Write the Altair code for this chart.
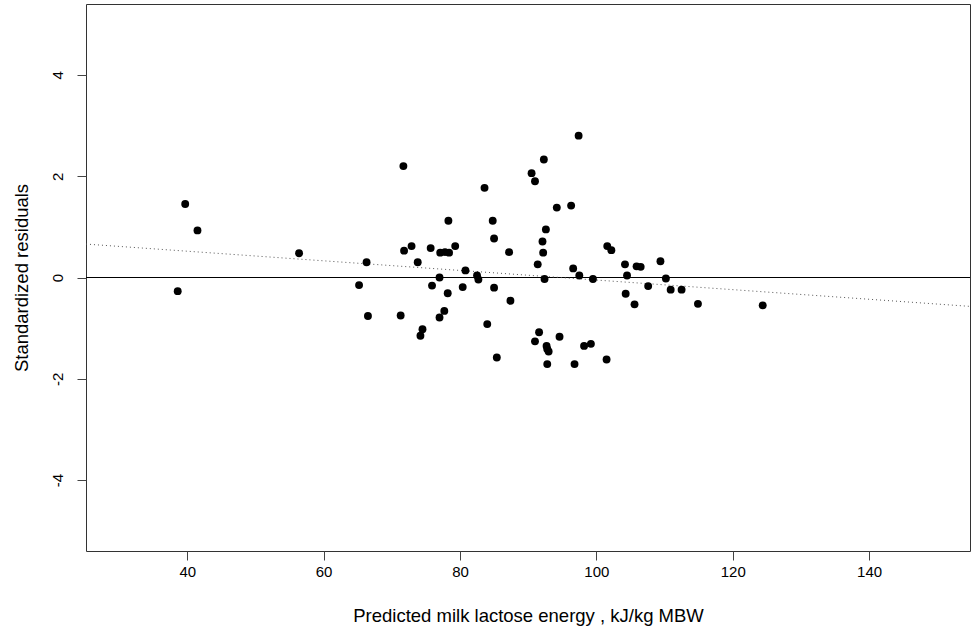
import altair as alt
import pandas as pd

# Predicted milk lactose energy (kJ/kg MBW) and standardized residuals
pred = [39.7, 41.5, 38.6, 56.4, 71.7, 66.3, 65.2, 66.5, 71.3, 71.8,
        72.9, 73.8, 74.5, 74.2, 75.7, 75.9, 77.0, 78.2, 77.7, 77.0,
        77.1, 77.8, 78.4, 78.3, 79.3, 80.8, 80.4, 82.5, 82.7, 83.6,
        84.8, 85.0, 85.0, 84.0, 85.4, 87.2, 87.4, 90.5, 91.0, 92.3,
        92.6, 92.1, 92.2, 91.4, 92.4, 91.6, 91.0, 92.7, 92.8, 93.0,
        92.8, 94.6, 94.2, 96.3, 97.4, 96.6, 97.5, 96.8, 98.2, 99.2,
        99.5, 101.5, 101.6, 102.2, 104.2, 104.5, 104.3, 105.6, 105.9, 106.5,
        107.6, 109.4, 110.2, 110.9, 112.5, 114.9, 124.4]
resid = [1.45, 0.93, -0.27, 0.48, 2.20, 0.30, -0.15, -0.76, -0.75, 0.53,
         0.62, 0.30, -1.02, -1.15, 0.58, -0.16, 0.00, -0.31, -0.66, -0.79,
         0.49, 0.50, 0.49, 1.12, 0.62, 0.14, -0.19, 0.04, -0.04, 1.77,
         1.12, 0.77, -0.20, -0.92, -1.58, 0.50, -0.46, 2.06, 1.90, 2.33,
         0.95, 0.71, 0.49, 0.26, -0.03, -1.08, -1.26, -1.35, -1.41, -1.46,
         -1.71, -1.17, 1.38, 1.42, 2.80, 0.18, 0.04, -1.71, -1.35, -1.31,
         -0.03, -1.62, 0.62, 0.54, 0.26, 0.04, -0.32, -0.53, 0.22, 0.21,
         -0.17, 0.32, -0.02, -0.24, -0.24, -0.52, -0.55]

# dotted trend line end points
trend_x = [25.15, 154.8]
trend_y = [0.66, -0.57]

x_ticks = [40, 60, 80, 100, 120, 140]
y_ticks = [-4, -2, 0, 2, 4]

x_dom = [25.15, 154.8]
y_dom = [-5.4, 5.4]

pts = pd.DataFrame({"x": pred, "y": resid})
trend = pd.DataFrame({"x": trend_x, "y": trend_y})
zero = pd.DataFrame({"y": [0]})

FONT = "Liberation Sans"
LBL = "datum.value < 0 ? '-' + abs(datum.value) : '' + datum.value"

xscale = alt.Scale(domain=x_dom, nice=False, zero=False)
yscale = alt.Scale(domain=y_dom, nice=False, zero=False)

xaxis = alt.Axis(values=x_ticks, grid=False, domain=False, tickSize=9,
                 tickColor="#444", labelPadding=4, labelFontSize=15,
                 labelFont=FONT, labelColor="#000", labelExpr=LBL,
                 title="Predicted milk lactose energy , kJ/kg MBW",
                 titleFont=FONT, titleFontSize=18.5, titleFontWeight="normal",
                 titleColor="#000", titlePadding=27)
yaxis = alt.Axis(values=y_ticks, grid=False, domain=False, tickSize=9,
                 tickColor="#444", labelAngle=270, labelAlign="center",
                 labelBaseline="bottom", labelPadding=12, labelFontSize=15,
                 labelFont=FONT, labelColor="#000", labelExpr=LBL,
                 title="Standardized residuals", titleFont=FONT,
                 titleFontSize=18.5, titleFontWeight="normal", titleColor="#000",
                 titlePadding=19)

points = alt.Chart(pts).mark_circle(size=62, color="#000", opacity=1).encode(
    x=alt.X("x:Q", scale=xscale, axis=xaxis),
    y=alt.Y("y:Q", scale=yscale, axis=yaxis),
)

zline = alt.Chart(zero).mark_rule(color="#000", strokeWidth=1).encode(
    y=alt.Y("y:Q", scale=yscale)
)

tline = alt.Chart(trend).mark_line(color="#555", strokeWidth=1,
                                   strokeDash=[1, 3], clip=True).encode(
    x=alt.X("x:Q", scale=xscale),
    y=alt.Y("y:Q", scale=yscale),
)

chart = alt.layer(zline, tline, points).properties(
    width=884, height=547,
    autosize=alt.AutoSizeParams(type="none"),
    padding={"left": 86, "top": 4, "right": 5, "bottom": 83},
    background="white",
).configure_view(stroke="#333", strokeWidth=1)

chart.save("out.html", embed_options={"renderer": "svg", "actions": False})
